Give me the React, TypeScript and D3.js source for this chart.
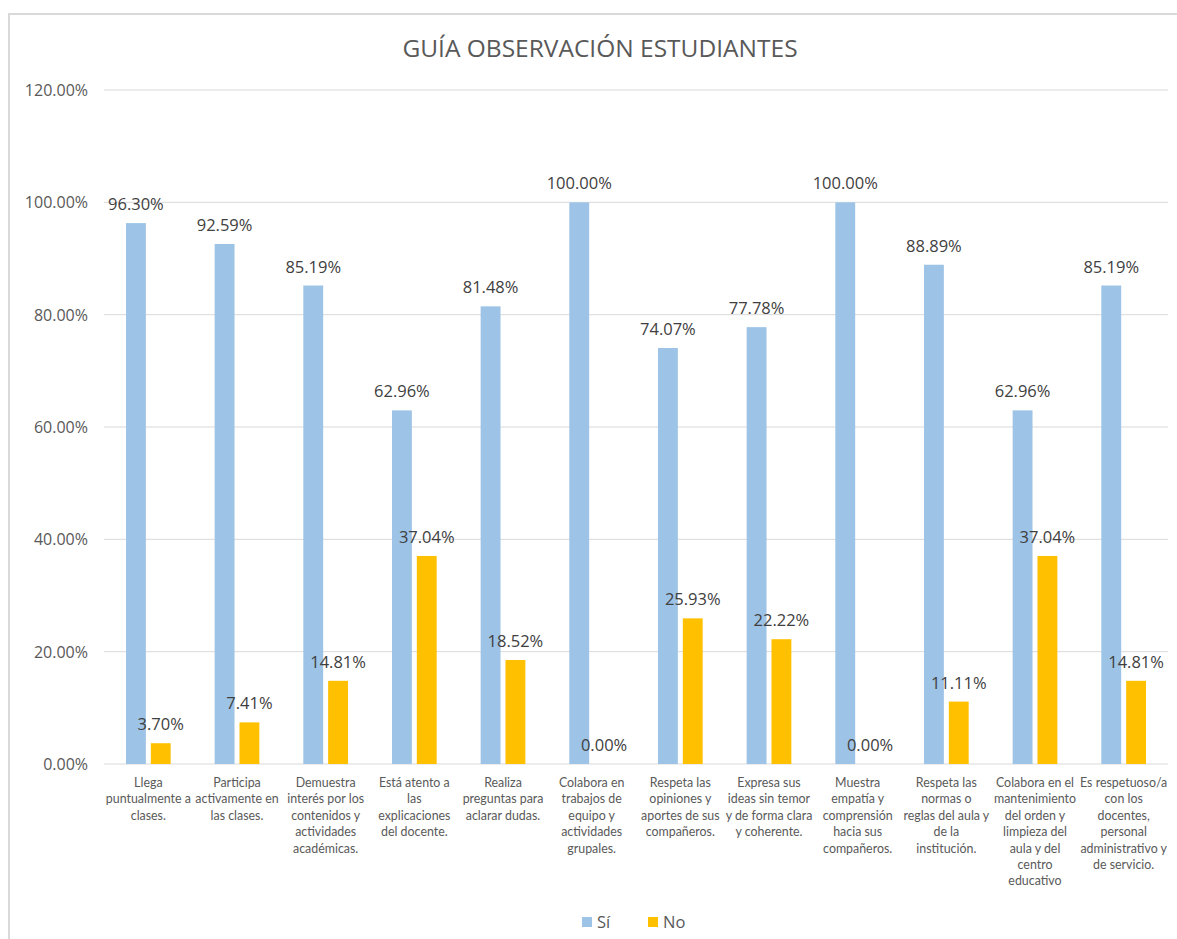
import React, { useEffect, useRef } from "react";
import * as d3 from "d3";

const title = "GUÍA OBSERVACIÓN ESTUDIANTES";
const categories = [
  "Llega\npuntualmente a\nclases.",
  "Participa\nactivamente en\nlas clases.",
  "Demuestra\ninterés por los\ncontenidos y\nactividades\nacadémicas.",
  "Está atento a\nlas\nexplicaciones\ndel docente.",
  "Realiza\npreguntas para\naclarar dudas.",
  "Colabora en\ntrabajos de\nequipo y\nactividades\ngrupales.",
  "Respeta las\nopiniones y\naportes de sus\ncompañeros.",
  "Expresa sus\nideas sin temor\ny de forma clara\ny coherente.",
  "Muestra\nempatía y\ncomprensión\nhacia sus\ncompañeros.",
  "Respeta las\nnormas o\nreglas del aula y\nde la\ninstitución.",
  "Colabora en el\nmantenimiento\ndel orden y\nlimpieza del\naula y del\ncentro\neducativo",
  "Es respetuoso/a\ncon los\ndocentes,\npersonal\nadministrativo y\nde servicio.",
];
const seriesNames = ["Sí", "No"];
const siValues = [96.3, 92.59, 85.19, 62.96, 81.48, 100, 74.07, 77.78, 100, 88.89, 62.96, 85.19];
const noValues = [3.7, 7.41, 14.81, 37.04, 18.52, 0, 25.93, 22.22, 0, 11.11, 37.04, 14.81];
const yTicks = [0, 20, 40, 60, 80, 100, 120];
const colors = ["#9DC3E6", "#FFC000"];

const W = 1177;
const H = 939;
const FONT = "'Open Sans', sans-serif";
const CAT_FONT = "Lato, 'Open Sans', sans-serif";

export default function App() {
  const ref = useRef<SVGSVGElement>(null);
  useEffect(() => {
    const svg = d3.select(ref.current);
    svg.selectAll("*").remove();

    svg
      .append("rect")
      .attr("x", 9)
      .attr("y", 14)
      .attr("width", 1300)
      .attr("height", 1100)
      .attr("fill", "#fff")
      .attr("stroke", "#d9d9d9")
      .attr("stroke-width", 2);

    const left = 104, right = 1168, top = 90, bottom = 764;
    const y = d3.scaleLinear().domain([0, 120]).range([bottom, top]);
    const x0 = d3.scaleBand<number>().domain(d3.range(categories.length)).range([left, right]).padding(0);
    const step = x0.bandwidth();
    const x1 = d3
      .scaleBand<string>()
      .domain(seriesNames)
      .range([step * 0.248, step * 0.752])
      .paddingInner(0.2)
      .paddingOuter(0);

    // title
    svg
      .append("text")
      .attr("x", 600)
      .attr("y", 57)
      .attr("text-anchor", "middle")
      .attr("font-family", FONT)
      .attr("font-size", 24.5)
      .attr("fill", "#595959")
      .text(title);

    // gridlines
    svg
      .append("g")
      .selectAll("line")
      .data(yTicks)
      .join("line")
      .attr("x1", left)
      .attr("x2", right)
      .attr("y1", (d) => y(d))
      .attr("y2", (d) => y(d))
      .attr("stroke", "#d9d9d9")
      .attr("stroke-width", 1);

    // y labels
    svg
      .append("g")
      .selectAll("text")
      .data(yTicks)
      .join("text")
      .attr("x", 88)
      .attr("y", (d) => y(d) + 6)
      .attr("text-anchor", "end")
      .attr("font-family", FONT)
      .attr("font-size", 16)
      .attr("fill", "#595959")
      .text((d) => d3.format(".2f")(d) + "%");

    const series = [siValues, noValues];
    series.forEach((vals, si) => {
      const g = svg.append("g");
      g.selectAll("rect")
        .data(vals)
        .join("rect")
        .attr("x", (_, i) => (x0(i) as number) + (x1(seriesNames[si]) as number))
        .attr("width", x1.bandwidth())
        .attr("y", (d) => y(d))
        .attr("height", (d) => bottom - y(d))
        .attr("fill", colors[si]);
      g.selectAll("text")
        .data(vals)
        .join("text")
        .attr("x", (_, i) => (x0(i) as number) + (x1(seriesNames[si]) as number) + x1.bandwidth() / 2)
        .attr("y", (d) => y(d) - 13)
        .attr("text-anchor", "middle")
        .attr("font-family", FONT)
        .attr("font-size", 16.5)
        .attr("fill", "#404040")
        .text((d) => d3.format(".2f")(d) + "%");
    });

    // category labels
    const cg = svg.append("g");
    categories.forEach((c, i) => {
      const t = cg
        .append("text")
        .attr("x", (x0(i) as number) + step / 2)
        .attr("y", 787)
        .attr("text-anchor", "middle")
        .attr("font-family", CAT_FONT)
        .attr("font-size", 12.4)
        .attr("fill", "#595959");
      c.split("\n").forEach((line, li) => {
        t.append("tspan")
          .attr("x", (x0(i) as number) + step / 2)
          .attr("dy", li === 0 ? 0 : 16.4)
          .text(line);
      });
    });

    // legend
    const lg = svg.append("g");
    const legendX = [582, 648];
    seriesNames.forEach((s, i) => {
      lg.append("rect")
        .attr("x", legendX[i])
        .attr("y", 917)
        .attr("width", 10)
        .attr("height", 10)
        .attr("fill", colors[i]);
      lg.append("text")
        .attr("x", legendX[i] + 15)
        .attr("y", 928)
        .attr("font-family", FONT)
        .attr("font-size", 16.5)
        .attr("fill", "#595959")
        .text(s);
    });
  }, []);

  return (
    <div style={{ position: "absolute", left: 0, top: 0 }}>
      <svg ref={ref} width={W} height={H} style={{ display: "block", background: "#fff" }} />
    </div>
  );
}
